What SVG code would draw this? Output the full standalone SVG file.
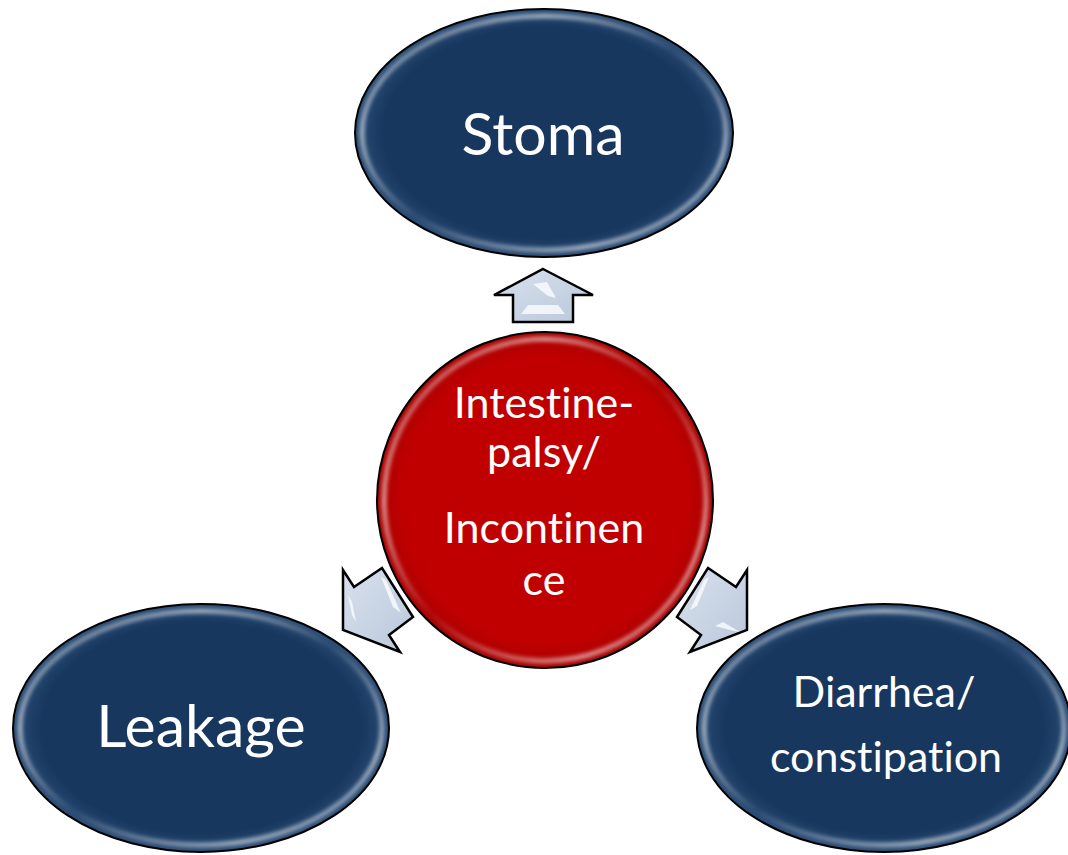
<svg xmlns="http://www.w3.org/2000/svg" width="1068" height="855" viewBox="0 0 1068 855">
  <defs>
    <linearGradient id="bevelBlue" x1="0" y1="0" x2="1" y2="1">
      <stop offset="0" stop-color="#ffffff" stop-opacity="0.15"/>
      <stop offset="0.25" stop-color="#ffffff" stop-opacity="0.7"/>
      <stop offset="0.5" stop-color="#ffffff" stop-opacity="0.05"/>
      <stop offset="0.8" stop-color="#ffffff" stop-opacity="0.7"/>
      <stop offset="1" stop-color="#ffffff" stop-opacity="0.2"/>
    </linearGradient>
    <radialGradient id="navyFill" cx="0.5" cy="0.5" r="0.5">
      <stop offset="0.85" stop-color="#17375e"/>
      <stop offset="1" stop-color="#2a4c75"/>
    </radialGradient>
    <radialGradient id="redFill" cx="0.5" cy="0.5" r="0.5">
      <stop offset="0.85" stop-color="#c00000"/>
      <stop offset="1" stop-color="#a80000"/>
    </radialGradient>
    <linearGradient id="arrowFill" x1="0" y1="0" x2="1" y2="1">
      <stop offset="0" stop-color="#d8e0ec"/>
      <stop offset="1" stop-color="#bac8dc"/>
    </linearGradient>
    <filter id="soft" x="-10%" y="-10%" width="120%" height="120%">
      <feGaussianBlur stdDeviation="2"/>
    </filter>
    <style>
      .ell { stroke: #000; stroke-width: 2; }
      .navy { fill: url(#navyFill); }
      .red { fill: url(#redFill); }
      .bevel { fill: none; stroke: url(#bevelBlue); stroke-width: 4; filter: url(#soft); }
      .arrow { fill: url(#arrowFill); stroke: #000; stroke-width: 2.5; stroke-linejoin: miter; }
      .hl { fill: #ffffff; opacity: 0.75; }
      .lbl { font-family: Lato, "Open Sans", "Liberation Sans", sans-serif; fill: #ffffff; text-anchor: middle; font-variant-ligatures: none; font-feature-settings: "liga" 0, "clig" 0, "dlig" 0; }
      .big { font-size: 59px; }
      .mid { font-size: 43px; }
    </style>
  </defs>

  <g id="connectors">
    <g id="arrow-up">
      <polygon class="arrow" points="543,269 593,295 573,295 573,322 513,322 513,295 494,295"/>
      <polygon class="hl" points="533,284 547,282 556,298 548,296"/>
      <polygon class="hl" points="521,314 565,314 558,305 528,305"/>
    </g>
    <g id="arrow-left">
      <polygon class="arrow" points="343,630 343,570 354,587 382,568 413,617 389,635 400,652"/>
      <polygon class="hl" points="348,595 352,602 356,622 352,615"/>
      <polygon class="hl" points="381,577 386,580 401,613 393,607"/>
    </g>
    <g id="arrow-right">
      <polygon class="arrow" points="747,630 747,570 736,587 708,568 677,617 701,635 690,652"/>
      <polygon class="hl" points="709,577 704,580 690,610 697,606"/>
      <polygon class="hl" points="715,626 723,622 740,632 730,630"/>
    </g>
  </g>

  <g id="node-stoma">
    <ellipse class="ell navy" cx="544" cy="133" rx="189" ry="124"/>
    <ellipse class="bevel" cx="544" cy="133" rx="182" ry="117"/>
    <text class="lbl big" x="543" y="155">Stoma</text>
  </g>

  <g id="node-center">
    <circle class="ell red" cx="545" cy="500" r="168"/>
    <circle class="bevel" cx="545" cy="500" r="161"/>
    <text class="lbl mid" x="544" y="418">Intestine-</text>
    <text class="lbl mid" x="544" y="467">palsy/</text>
    <text class="lbl mid" x="544" y="543">Incontinen</text>
    <text class="lbl mid" x="544" y="595">ce</text>
  </g>

  <g id="node-leakage">
    <ellipse class="ell navy" cx="201" cy="728" rx="188" ry="124"/>
    <ellipse class="bevel" cx="201" cy="728" rx="181" ry="117"/>
    <text class="lbl big" x="201" y="747">Leakage</text>
  </g>

  <g id="node-diarrhea">
    <ellipse class="ell navy" cx="884" cy="728" rx="187" ry="124"/>
    <ellipse class="bevel" cx="884" cy="728" rx="180" ry="117"/>
    <text class="lbl mid" x="884" y="707">Diarrhea/</text>
    <text class="lbl mid" x="886" y="772">constipation</text>
  </g>
</svg>
